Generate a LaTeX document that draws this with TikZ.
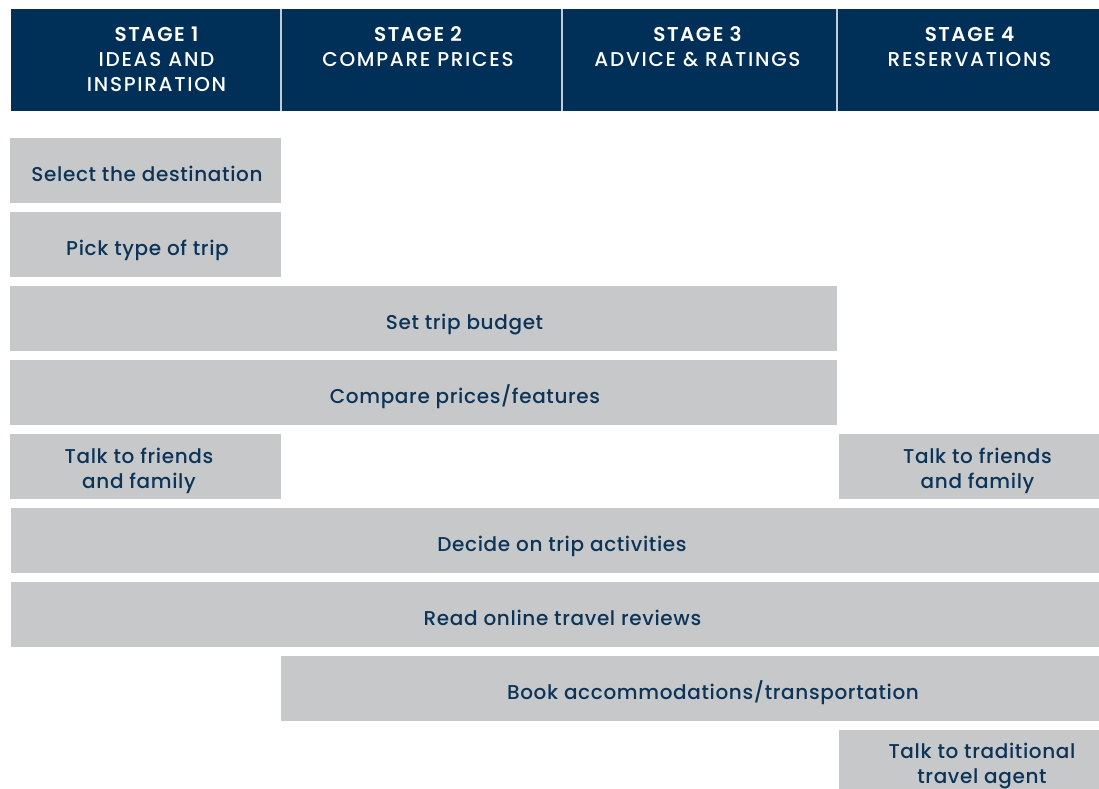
\documentclass[tikz,border=0pt]{standalone}
\usepackage{fontspec}
\setmainfont{Poppins}
\newfontfamily\medfont{Poppins}[UprightFont=* Medium, LetterSpace=3.2]
\newfontfamily\semifont{Poppins}[UprightFont=* SemiBold, LetterSpace=7.5]
\newfontfamily\capsfont{Poppins}[UprightFont=* Medium, LetterSpace=8.5]
\definecolor{navy}{RGB}{0,48,87}
\definecolor{inknavy}{RGB}{12,52,88}
\definecolor{bargray}{RGB}{199,200,202}
\definecolor{rulegray}{RGB}{196,204,214}
\tikzset{
  headbox/.style={fill=navy, draw=none, inner sep=0pt, outer sep=0pt},
  barbox/.style={fill=bargray, draw=none, inner sep=0pt, outer sep=0pt},
  headtitle/.style={anchor=base, inner sep=0pt, text=white, font=\semifont\fontsize{20}{20}\selectfont},
  headsub/.style={anchor=base, inner sep=0pt, text=white, font=\capsfont\fontsize{20}{20}\selectfont},
  lbl/.style={anchor=base, inner sep=0pt, text=inknavy, font=\medfont\fontsize{20}{20}\selectfont},
}
% a filled box spanning (x1,y1)-(x2,y2): name, style, x1, y1, x2, y2
\newcommand\spanbox[6]{%
  \node[#2, minimum width={(#5-#3)*1pt}, minimum height={(#6-#4)*1pt}]
    (#1) at ({(#3+#5)/2},{(#4+#6)/2}) {};}
\begin{document}
\begin{tikzpicture}[x=1pt, y=-1pt]
\useasboundingbox (0,0) rectangle (1099,788);

% header band and its stage columns
\spanbox{h1}{headbox}{11}{9}{281}{111}
\spanbox{h2}{headbox}{281}{9}{562}{111}
\spanbox{h3}{headbox}{562}{9}{837}{111}
\spanbox{h4}{headbox}{837}{9}{1099}{111}
\draw[rulegray, line width=1.2pt] (h1.north east) -- (h1.south east);
\draw[rulegray, line width=1.2pt] (h2.north east) -- (h2.south east);
\draw[rulegray, line width=1.2pt] (h3.north east) -- (h3.south east);

\node[headtitle] (s1a) at (156.5,41.3) {STAGE 1};
\node[headsub]   (s1b) at (156.5,66.7) {IDEAS AND};
\node[headsub]   (s1c) at (156.5,91.3) {INSPIRATION};
\node[headtitle] (s2a) at (418,41.3) {STAGE 2};
\node[headsub]   (s2b) at (418,66.7) {COMPARE PRICES};
\node[headtitle] (s3a) at (697.5,41.3) {STAGE 3};
\node[headsub]   (s3b) at (697.5,66.7) {ADVICE \& RATINGS};
\node[headtitle] (s4a) at (969.5,41.3) {STAGE 4};
\node[headsub]   (s4b) at (969.5,66.7) {RESERVATIONS};

% activity bars
\spanbox{b1}{barbox}{10}{138}{281}{203}
\spanbox{b2}{barbox}{10}{212}{281}{277}
\spanbox{b3}{barbox}{10}{286}{837}{351}
\spanbox{b4}{barbox}{10}{360}{837}{425}
\spanbox{b5}{barbox}{10}{434}{281}{499}
\spanbox{b6}{barbox}{839}{434}{1099}{499}
\spanbox{b7}{barbox}{11}{508}{1099}{573}
\spanbox{b8}{barbox}{11}{582}{1099}{647}
\spanbox{b9}{barbox}{281}{656}{1099}{721}
\spanbox{b10}{barbox}{839}{730}{1099}{795}

% bar labels
\node[lbl] (t1)  at (147,181) {Select the destination};
\node[lbl] (t2)  at (147.5,255) {Pick type of trip};
\node[lbl] (t3)  at (464.5,329) {Set trip budget};
\node[lbl] (t4)  at (465,403) {Compare prices/features};
\node[lbl] (t5a) at (139,463) {Talk to friends};
\node[lbl] (t5b) at (139,488) {and family};
\node[lbl] (t6a) at (977.5,463) {Talk to friends};
\node[lbl] (t6b) at (977.5,488) {and family};
\node[lbl] (t7)  at (562,551) {Decide on trip activities};
\node[lbl] (t8)  at (562.5,625) {Read online travel reviews};
\node[lbl] (t9)  at (713,699) {Book accommodations/transportation};
\node[lbl] (t10a) at (982,758) {Talk to traditional};
\node[lbl] (t10b) at (982,783) {travel agent};
\end{tikzpicture}
\end{document}
